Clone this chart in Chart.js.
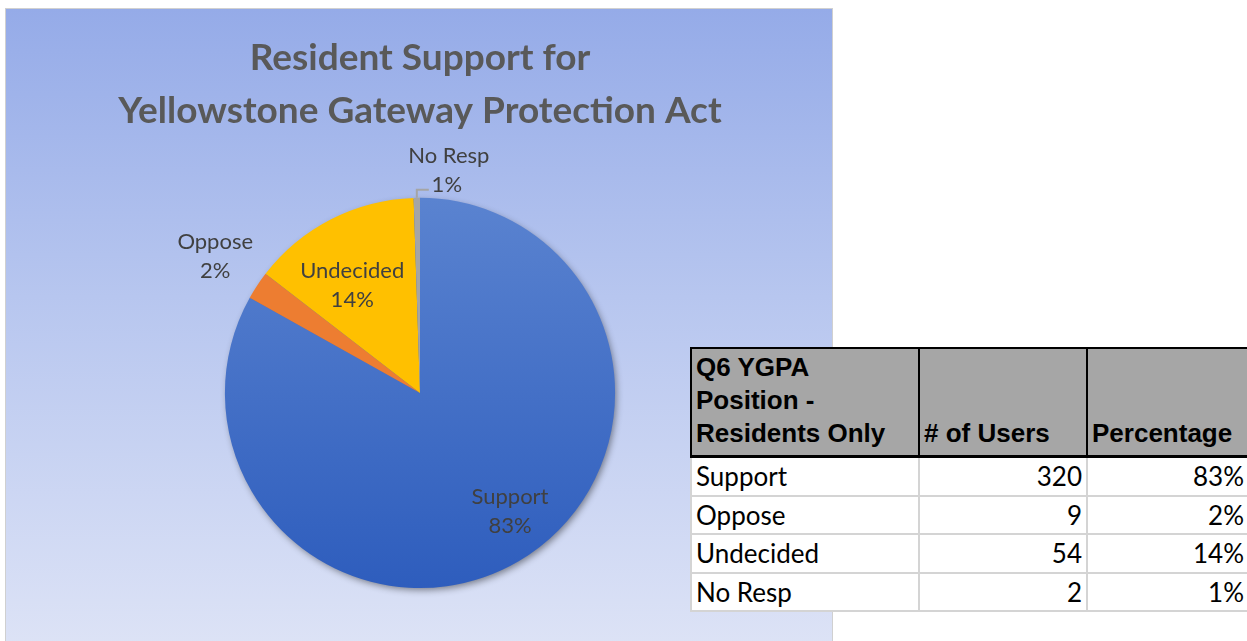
<!DOCTYPE html>
<html>
<head>
<meta charset="utf-8">
<script src="https://cdn.jsdelivr.net/npm/chart.js@4.4.1/dist/chart.umd.min.js"></script>
<style>
  body{margin:0;width:1247px;height:641px;overflow:hidden;position:relative;background:#fff;font-family:Lato,sans-serif}
  #box{position:absolute;left:5px;top:8px;width:826px;height:640px;border:1px solid #d0d0d0;
       background:linear-gradient(#95abe8 0%,#b7c6ef 45%,#dde3f6 100%)}
  #pie{position:absolute;left:0;top:0}
  #tbl{position:absolute;left:690px;top:347px;width:566px;table-layout:fixed;border-collapse:collapse;border:2px solid #000;background:#fff}
  #tbl td{padding:0 4px;font:26px Lato,sans-serif;color:#000;border:2px solid #d4d4d4;height:36.5px;white-space:nowrap;background:#fff}
  #tbl th{background:#a6a6a6;font:bold 26px "Liberation Sans",Arial,sans-serif;text-align:left;vertical-align:bottom;
          border:2px solid #000;border-bottom:3px solid #000;padding:2px 4px 5px;line-height:33px;height:95px;white-space:nowrap}
  #tbl td.num{text-align:right}
  #tbl td.last{padding-right:12px}
</style>
</head>
<body>
<div id="box"><canvas id="pie" width="826" height="633"></canvas></div>
<table id="tbl"></table>
<script>
// survey answers, residents only (Q6)
const categories = ['Support','Oppose','Undecided','No Resp'];
const users = [320, 9, 54, 2];
const percentLabels = ['83%','2%','14%','1%'];
const headers = [['Q6 YGPA','Position -','Residents Only'], ['# of Users'], ['Percentage']];
const titleLines = ['Resident Support for','Yellowstone Gateway Protection Act'];

const sliceColors = ['#4472c4','#ed7d31','#ffc000','#a5a5a5'];

// table on the right
const tbl = document.getElementById('tbl');
const colW = [228,168,170];
let html = '<colgroup>' + colW.map(w=>'<col style="width:'+w+'px">').join('') + '</colgroup>';
html += '<tr>' + headers.map(h=>'<th>'+h.join('<br>')+'</th>').join('') + '</tr>';
categories.forEach((c,i)=>{
  html += '<tr><td>'+c+'</td><td class="num">'+users[i]+'</td><td class="num last">'+percentLabels[i]+'</td></tr>';
});
tbl.innerHTML = html;

// Excel-ish drop shadow under the whole pie
const pieShadow = {
  id:'pieShadow',
  beforeDatasetsDraw(chart){
    const arc = chart.getDatasetMeta(0).data[0];
    if(!arc) return;
    const {x,y,outerRadius} = arc.getProps(['x','y','outerRadius'],true);
    const ctx = chart.ctx;
    ctx.save();
    ctx.shadowColor = 'rgba(0,0,0,0.45)';
    ctx.shadowBlur = 7;
    ctx.shadowOffsetX = 2;
    ctx.shadowOffsetY = 3;
    ctx.fillStyle = '#3a66c2';
    ctx.beginPath(); ctx.arc(x,y,outerRadius-1,0,Math.PI*2); ctx.fill();
    ctx.restore();
  }
};

// category + percent labels, placed off each arc's geometry
const labelRadius = [0.76, 1.27, 0.65, null];
const labelNudge = [[15,-10],[2,-1],[-10,5],[0,0]];
const sliceLabels = {
  id:'sliceLabels',
  afterDatasetsDraw(chart){
    const ctx = chart.ctx;
    ctx.save();
    ctx.font = '22px Lato';
    ctx.fillStyle = '#404040';
    ctx.textAlign = 'center';
    ctx.textBaseline = 'middle';
    chart.getDatasetMeta(0).data.forEach((arc,i)=>{
      const p = arc.getProps(['x','y','startAngle','endAngle','outerRadius'],true);
      const mid = (p.startAngle+p.endAngle)/2;
      if(labelRadius[i]!==null){
        const r = p.outerRadius*labelRadius[i];
        const lx = p.x + Math.cos(mid)*r + labelNudge[i][0], ly = p.y + Math.sin(mid)*r + labelNudge[i][1];
        ctx.fillText(categories[i], lx, ly-14);
        ctx.fillText(percentLabels[i], lx, ly+15);
      } else {
        // tiny slice: leader line up and to the right
        const ex = p.x + Math.cos(mid)*p.outerRadius, ey = p.y + Math.sin(mid)*p.outerRadius;
        ctx.strokeStyle = '#a5a5a5'; ctx.lineWidth = 2;
        ctx.beginPath(); ctx.moveTo(ex,ey); ctx.lineTo(ex,ey-8); ctx.lineTo(ex+12,ey-8); ctx.stroke();
        ctx.fillText(categories[i], ex+32, ey-42);
        ctx.fillText(percentLabels[i], ex+30, ey-13);
      }
    });
    ctx.restore();
  }
};

new Chart(document.getElementById('pie'), {
  type:'pie',
  data:{
    labels:categories,
    datasets:[{
      data:users,
      backgroundColor(c){
        if(c.dataIndex!==0 || !c.chart.chartArea) return sliceColors[c.dataIndex];
        const a = c.chart.chartArea;
        const g = c.chart.ctx.createLinearGradient(0,a.top,0,a.bottom);
        g.addColorStop(0,'#5a83d0'); g.addColorStop(1,'#2e5dbd');
        return g;
      },
      borderWidth:0,
      hoverOffset:0
    }]
  },
  options:{
    responsive:false,
    devicePixelRatio:1,
    animation:false,
    layout:{padding:{top:0,bottom:54,left:2,right:0}},
    plugins:{
      legend:{display:false},
      tooltip:{enabled:false},
      title:{display:true,text:titleLines,color:'#595959',
             font:{family:'Lato',size:37,weight:'bold',lineHeight:1.43},
             padding:{top:23,bottom:60}}
    }
  },
  plugins:[pieShadow, sliceLabels]
});
</script>
</body>
</html>
